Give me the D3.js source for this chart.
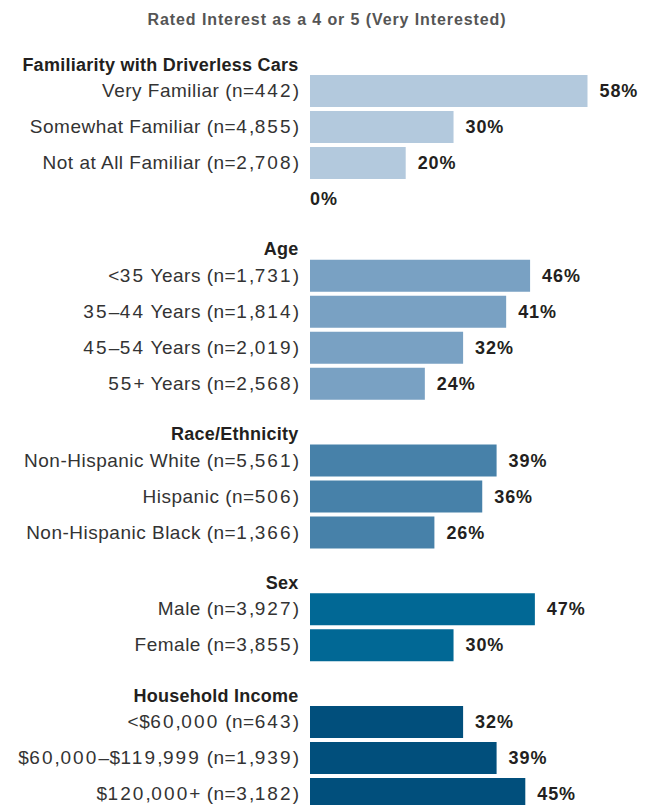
<!DOCTYPE html>
<html>
<head>
<meta charset="utf-8">
<script src="https://cdn.jsdelivr.net/npm/d3@7"></script>
<style>
  html, body { margin: 0; padding: 0; background: #ffffff; }
  svg { display: block; }
  text { font-family: "Liberation Sans", Arial, sans-serif; }
</style>
</head>
<body>
<svg id="chart" width="648" height="805"></svg>
<script>
// Share rating interest as 4 or 5, by respondent group
const groupNames = [
  "Familiarity with Driverless Cars",
  "Age",
  "Race/Ethnicity",
  "Sex",
  "Household Income"
];
const familiarityLabels = ["Very Familiar (n=442)", "Somewhat Familiar (n=4,855)", "Not at All Familiar (n=2,708)", ""];
const familiarityValues = [58, 30, 20, 0];
const ageLabels = ["<35 Years (n=1,731)", "35–44 Years (n=1,814)", "45–54 Years (n=2,019)", "55+ Years (n=2,568)"];
const ageValues = [46, 41, 32, 24];
const raceLabels = ["Non-Hispanic White (n=5,561)", "Hispanic (n=506)", "Non-Hispanic Black (n=1,366)"];
const raceValues = [39, 36, 26];
const sexLabels = ["Male (n=3,927)", "Female (n=3,855)"];
const sexValues = [47, 30];
const incomeLabels = ["<$60,000 (n=643)", "$60,000–$119,999 (n=1,939)", "$120,000+ (n=3,182)"];
const incomeValues = [32, 39, 45];
const groupColors = ["#b3c9dd", "#79a1c3", "#4781a9", "#016895", "#014f7c"];
const subtitle = "Rated Interest as a 4 or 5 (Very Interested)";

const groupLabels = [familiarityLabels, ageLabels, raceLabels, sexLabels, incomeLabels];
const groupValues = [familiarityValues, ageValues, raceValues, sexValues, incomeValues];

// Flatten into rows, remembering the group and running row index
const rows = [];
let slot = 0;
groupNames.forEach((g, gi) => {
  groupLabels[gi].forEach((lab, i) => {
    rows.push({ group: gi, label: lab, value: groupValues[gi][i], slot: slot++, first: i === 0 });
  });
});

const svg = d3.select("#chart");

const barLeft = 310;
const rowStep = 36;
const barH = 32;
const headerGap = 40.75;
const topY = 75;

const x = d3.scaleLinear().domain([0, 58]).range([barLeft, barLeft + 277.5]);
const yPos = d => topY + d.slot * rowStep + d.group * headerGap;

// Subtitle
svg.append("text")
  .attr("x", 327).attr("y", 25)
  .attr("text-anchor", "middle")
  .attr("font-size", 16).attr("font-weight", "bold")
  .attr("letter-spacing", "0.9px")
  .attr("fill", "#555555")
  .text(subtitle);

// Group headings
svg.selectAll("text.head")
  .data(rows.filter(r => r.first))
  .join("text")
  .attr("class", "head")
  .attr("x", 298.5)
  .attr("y", d => yPos(d) - 4.5)
  .attr("text-anchor", "end")
  .attr("font-size", 18).attr("font-weight", "bold")
  .attr("letter-spacing", "0.25px")
  .attr("fill", "#231f20")
  .text(d => groupNames[d.group]);

// Bars
svg.selectAll("rect.bar")
  .data(rows)
  .join("rect")
  .attr("class", "bar")
  .attr("x", x(0))
  .attr("y", d => yPos(d))
  .attr("width", d => x(d.value) - x(0))
  .attr("height", barH)
  .attr("fill", d => groupColors[d.group]);

// Category labels; digit runs get wider tracking (tabular-style figures)
svg.selectAll("text.cat")
  .data(rows)
  .join("text")
  .attr("class", "cat")
  .attr("x", 299.5)
  .attr("y", d => yPos(d) + 22)
  .attr("text-anchor", "end")
  .attr("font-size", 19)
  .attr("letter-spacing", "0.5px")
  .attr("fill", "#333333")
  .each(function(d) {
    const t = d3.select(this);
    d.label.split(/(\d+)/).filter(s => s.length).forEach(part => {
      const ts = t.append("tspan").text(part);
      if (/^\d+$/.test(part)) ts.attr("letter-spacing", "2.1px");
    });
  });

// Value labels
svg.selectAll("text.val")
  .data(rows)
  .join("text")
  .attr("class", "val")
  .attr("x", d => x(d.value) + (d.value > 0 ? 12 : 0))
  .attr("y", d => yPos(d) + 22)
  .attr("font-size", 18).attr("font-weight", "bold")
  .attr("letter-spacing", "0.9px")
  .attr("fill", "#231f20")
  .text(d => d3.format(".0f")(d.value) + "%");
</script>
</body>
</html>
